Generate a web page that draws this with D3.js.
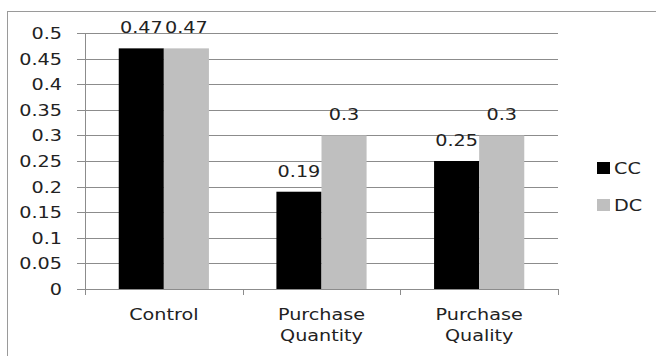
<!DOCTYPE html>
<html>
<head>
<meta charset="utf-8">
<script src="https://cdn.jsdelivr.net/npm/d3@7"></script>
<style>
  body { margin: 0; background: #fff; }
  text { font-family: "DejaVu Sans", sans-serif; font-size: 16px; fill: #222; }
</style>
</head>
<body>
<svg width="656" height="356"></svg>
<script>
var categories = [["Control"], ["Purchase", "Quantity"], ["Purchase", "Quality"]];
var seriesNames = ["CC", "DC"];
var ccValues = [0.47, 0.19, 0.25];
var dcValues = [0.47, 0.3, 0.3];
var yTicks = [0, 0.05, 0.1, 0.15, 0.2, 0.25, 0.3, 0.35, 0.4, 0.45, 0.5];
var colors = ["#000000", "#bfbfbf"];

var svg = d3.select("svg"),
    sx = 1.2; // the reference text is stretched sideways

var margin = {left: 85, right: 98, top: 33, bottom: 67},
    width = 656 - margin.left - margin.right,
    height = 356 - margin.top - margin.bottom;

// outer chart border
svg.append("rect")
    .attr("x", 7.5).attr("y", 11.5)
    .attr("width", 700).attr("height", 400)
    .style("fill", "none")
    .style("stroke", "#9a9a9a");

var g = svg.append("g")
    .attr("transform", "translate(" + margin.left + "," + margin.top + ")");

var x0 = d3.scaleBand()
    .domain(d3.range(categories.length))
    .range([0, width]);

var x1 = d3.scaleBand()
    .domain(seriesNames)
    .range([x0.bandwidth() * 0.214, x0.bandwidth() * 0.786]);

var y = d3.scaleLinear()
    .domain([0, 0.5])
    .range([height, 0]);

function stretchText(sel, tx, ty) {
    return sel.attr("transform", "translate(" + tx + "," + ty + ") scale(" + sx + ",1)");
}

// gridlines + left ticks
g.selectAll(".grid")
    .data(yTicks)
    .enter().append("line")
    .attr("x1", -8).attr("x2", width)
    .attr("y1", function(d) { return Math.round(y(d)) + 0.5; })
    .attr("y2", function(d) { return Math.round(y(d)) + 0.5; })
    .style("stroke", "#8c8c8c");

g.selectAll(".ylab")
    .data(yTicks)
    .enter().append("text")
    .attr("text-anchor", "end")
    .each(function(d) {
        stretchText(d3.select(this), -23, y(d) + 6);
    })
    .text(function(d) { return d3.format("")(d).replace(/^0\.(\d*)$/, "0.$1"); });

// y axis line
g.append("line")
    .attr("x1", 0.5).attr("x2", 0.5)
    .attr("y1", 0).attr("y2", height)
    .style("stroke", "#8c8c8c");

// x tick marks
g.selectAll(".xtick")
    .data(d3.range(categories.length + 1))
    .enter().append("line")
    .attr("x1", function(i) { return Math.round(i * x0.step()) + 0.5; })
    .attr("x2", function(i) { return Math.round(i * x0.step()) + 0.5; })
    .attr("y1", height).attr("y2", height + 6)
    .style("stroke", "#8c8c8c");

var data = categories.map(function(c, i) {
    return [{s: "CC", v: ccValues[i]}, {s: "DC", v: dcValues[i]}];
});

var groups = g.selectAll(".cat")
    .data(data)
    .enter().append("g")
    .attr("transform", function(d, i) { return "translate(" + x0(i) + ",0)"; });

groups.selectAll("rect")
    .data(function(d) { return d; })
    .enter().append("rect")
    .attr("x", function(d) { return x1(d.s); })
    .attr("width", x1.bandwidth())
    .attr("y", function(d) { return y(d.v); })
    .attr("height", function(d) { return height - y(d.v); })
    .style("fill", function(d) { return colors[seriesNames.indexOf(d.s)]; });

groups.selectAll(".val")
    .data(function(d) { return d; })
    .enter().append("text")
    .attr("text-anchor", "middle")
    .each(function(d) {
        stretchText(d3.select(this), x1(d.s) + x1.bandwidth() / 2, y(d.v) - 15);
    })
    .text(function(d) { return d.v; });

// category labels
groups.each(function(d, i) {
    var lines = categories[i];
    lines.forEach(function(line, k) {
        stretchText(d3.select(this).append("text"), x0.bandwidth() / 2, height + 31 + k * 21)
            .attr("text-anchor", "middle")
            .text(line);
    }, this);
});

// legend
var legend = svg.selectAll(".legend")
    .data(seriesNames)
    .enter().append("g")
    .attr("transform", function(d, i) { return "translate(597," + (162 + i * 37) + ")"; });

legend.append("rect")
    .attr("width", 13).attr("height", 12)
    .style("fill", function(d, i) { return colors[i]; });

legend.each(function(d) {
    stretchText(d3.select(this).append("text"), 17, 12).text(d);
});
</script>
</body>
</html>
